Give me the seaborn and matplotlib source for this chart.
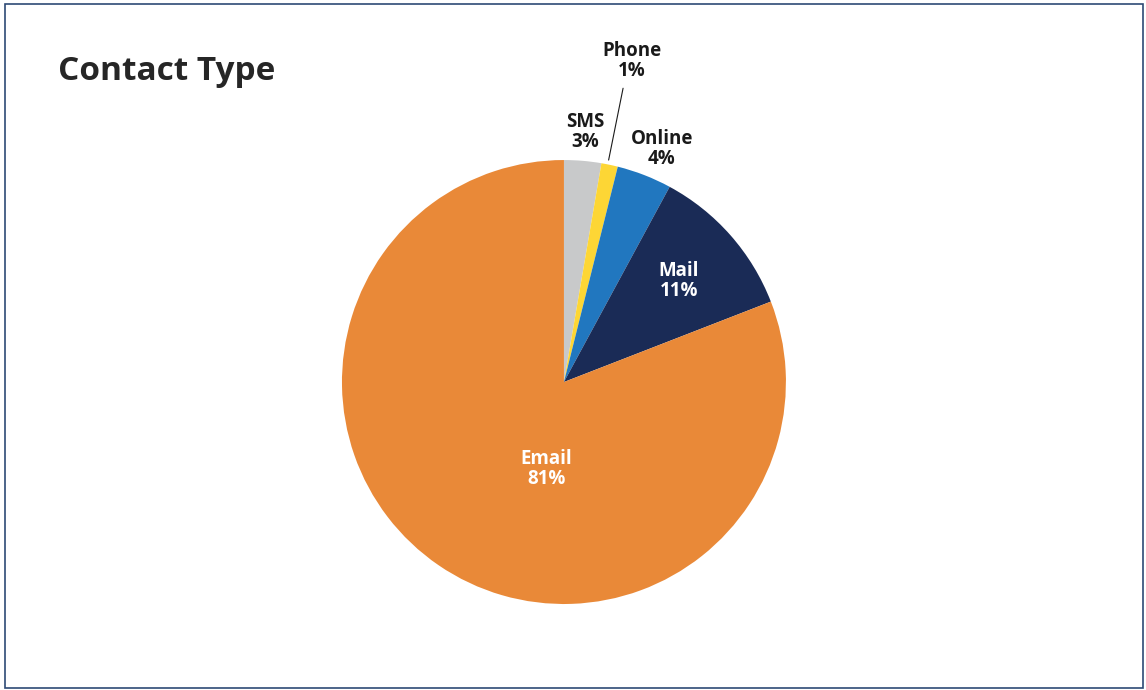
import numpy as np
import matplotlib
matplotlib.use("Agg")
import matplotlib.pyplot as plt
import seaborn as sns
from matplotlib.patches import Rectangle

# data (clockwise from 12 o'clock)
categories = ["SMS", "Phone", "Online", "Mail", "Email"]
shares = [2.7, 1.2, 4.0, 11.2, 80.9]
colors = ["#C8C9CA", "#FDD635", "#2177BF", "#1A2B56", "#E98938"]
text_colors = ["#1a1a1a", "#1a1a1a", "#1a1a1a", "white", "white"]
label_r = [1.13, 1.48, 1.14, 0.69, 0.40]
label_shift = [0, 0, -1.5, 0, 23]

sns.set_theme(style="white")
plt.rcParams["font.family"] = ["Open Sans", "DejaVu Sans"]

fig = plt.figure(figsize=(11.46, 6.9), dpi=100)
fig.patch.set_facecolor("white")

# pie axes: 444px square, centered at (564, 382)
ax = fig.add_axes([0.2984, 0.1246, 0.3874, 0.6435])
wedges, _ = ax.pie(shares, colors=colors, startangle=90, counterclock=False,
                   radius=1.0, wedgeprops=dict(linewidth=0))
ax.set_xlim(-1, 1)
ax.set_ylim(-1, 1)
ax.set_aspect("equal")
ax.axis("off")

for w, name, val, r, sh, tc in zip(wedges, categories, shares, label_r, label_shift, text_colors):
    ang = np.deg2rad((w.theta1 + w.theta2) / 2 + sh)
    x, y = r * np.cos(ang), r * np.sin(ang)
    ax.text(x, y, f"{name}\n{round(val):.0f}%", ha="center", va="center",
            fontsize=13.5, fontweight="bold", color=tc, linespacing=1.0,
            clip_on=False)
    if name == "Phone":
        a = np.deg2rad((w.theta1 + w.theta2) / 2 + 0.5)
        ax.plot([1.02 * np.cos(a), 1.35 * np.cos(a)],
                [1.02 * np.sin(a), 1.35 * np.sin(a)],
                color="#1a1a1a", lw=0.8, clip_on=False)

fig.text(0.0506, 0.8957, "Contact Type", ha="left", va="center",
         fontsize=24, fontweight="bold", color="#262626")

# thin navy frame around the card
fig.add_artist(Rectangle((0.004, 0.003), 0.993, 0.991, transform=fig.transFigure,
                         fill=False, edgecolor="#2E4A75", linewidth=1.2))

fig.savefig("out.png", dpi=100, facecolor="white")
